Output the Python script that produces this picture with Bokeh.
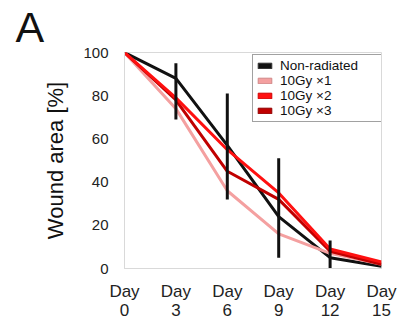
from bokeh.plotting import figure
from bokeh.models import Range1d, FixedTicker, Legend, LegendItem, Title
from bokeh.embed import file_html
from bokeh.resources import INLINE

days = [0, 3, 6, 9, 12, 15]
day_labels = ["Day\n0", "Day\n3", "Day\n6", "Day\n9", "Day\n12", "Day\n15"]
non_radiated = [100, 88, 57, 24, 5, 1]
gy_x1 = [100, 74, 36, 16, 7, 2]
gy_x2 = [100, 79, 55, 35, 9, 3]
gy_x3 = [100, 78, 45, 32, 8, 2]
err_days = [3, 6, 9, 12]
err_upper = [95, 81, 51, 13]
err_lower = [69, 32, 5, 0]
series_names = ["Non-radiated", "10Gy \u00d71", "10Gy \u00d72", "10Gy \u00d73"]

FONT = "Liberation Sans"
C_BLACK = "#111111"
C_X1 = "#f4a0a0"
C_X2 = "#ff1010"
C_X3 = "#c00000"
NAN = float("nan")

p = figure(width=401, height=325, output_backend="svg", toolbar_location=None,
           x_range=Range1d(0, 15), y_range=Range1d(0, 100),
           min_border_left=124, min_border_right=20, min_border_top=52, min_border_bottom=57)
p.background_fill_color = "white"
p.border_fill_color = "white"
p.outline_line_color = "#d9d9d9"
p.outline_line_width = 1
p.xgrid.visible = False
p.ygrid.visible = False

# axes
p.xaxis.ticker = FixedTicker(ticks=days)
p.xaxis.major_label_overrides = {d: lab for d, lab in zip(days, day_labels)}
p.yaxis.ticker = FixedTicker(ticks=[0, 20, 40, 60, 80, 100])
for ax in (p.xaxis[0], p.yaxis[0]):
    ax.axis_line_color = "#d9d9d9"
    ax.major_tick_line_color = None
    ax.minor_tick_line_color = None
    ax.major_tick_out = 0
    ax.major_tick_in = 0
    ax.major_label_text_font = FONT
    ax.major_label_text_color = "#222222"
p.xaxis.major_label_text_font_size = "17px"
p.xaxis.major_label_text_line_height = 1.0
p.xaxis.major_label_standoff = 13
p.yaxis.major_label_text_font_size = "15px"
p.yaxis.major_label_standoff = 16

# y label as a left title so it can be shifted along the axis
p.add_layout(Title(text="Wound area [%]", align="center", offset=45, standoff=26,
                   text_font=FONT, text_font_size="22px", text_color="#111111",
                   text_font_style="normal"), "left")

# lines
r0 = p.line(days, non_radiated, line_color=C_BLACK, line_width=3)
r1 = p.line(days, gy_x1, line_color=C_X1, line_width=3)
r3 = p.line(days, gy_x3, line_color=C_X3, line_width=3)
r2 = p.line(days, gy_x2, line_color=C_X2, line_width=3)

# error bars
p.segment(x0=err_days, y0=err_lower, x1=err_days, y1=err_upper, line_color=C_BLACK, line_width=3)

# legend swatch proxies (not drawn: NaN extents)
q0 = p.quad(left=[NAN], right=[NAN], top=[NAN], bottom=[NAN], fill_color=C_BLACK, line_color="#333333")
q1 = p.quad(left=[NAN], right=[NAN], top=[NAN], bottom=[NAN], fill_color=C_X1, line_color="#d08888")
q2 = p.quad(left=[NAN], right=[NAN], top=[NAN], bottom=[NAN], fill_color=C_X2, line_color="#d00000")
q3 = p.quad(left=[NAN], right=[NAN], top=[NAN], bottom=[NAN], fill_color=C_X3, line_color="#900000")

legend = Legend(items=[LegendItem(label=n, renderers=[r]) for n, r in zip(series_names, [q0, q1, q2, q3])],
                location=(128, 146))
legend.label_text_font = FONT
legend.label_text_font_size = "13.5px"
legend.label_text_color = "#111111"
legend.glyph_width = 17
legend.glyph_height = 7
legend.label_height = 13
legend.label_width = 100
legend.label_standoff = 7
legend.spacing = -1
legend.padding = 3
legend.margin = 0
legend.border_line_color = "#444444"
legend.border_line_width = 1
legend.background_fill_alpha = 1
p.add_layout(legend, "center")

# panel letter
p.add_layout(Title(text="A", align="left", offset=-109, standoff=0, vertical_align="top",
                   text_font=FONT, text_font_size="43px", text_color="#111111",
                   text_font_style="normal"), "above")

open("out.html", "w").write(file_html(p, INLINE))
